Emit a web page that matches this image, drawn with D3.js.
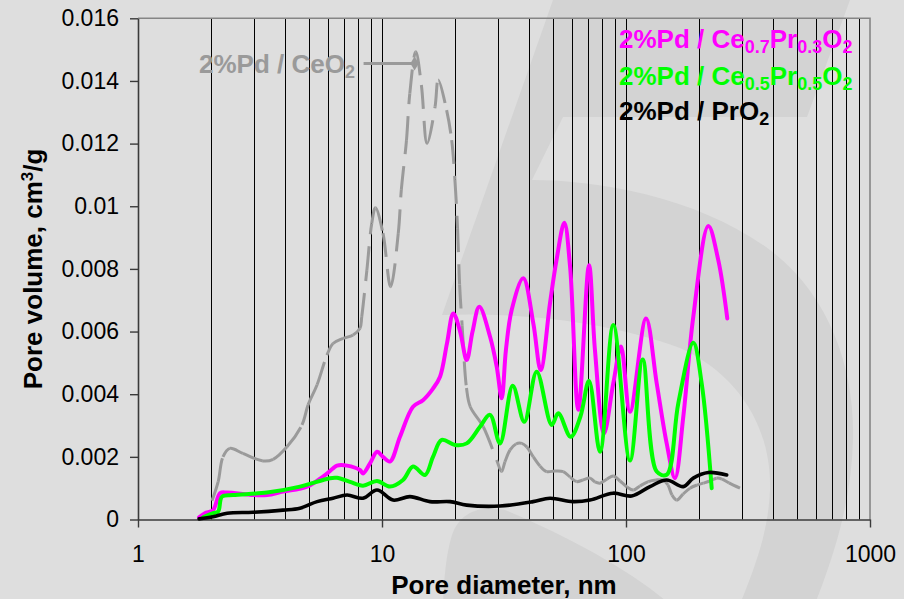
<!DOCTYPE html>
<html>
<head>
<meta charset="utf-8">
<script src="https://cdn.jsdelivr.net/npm/d3@7"></script>
<style>
  html, body { margin: 0; padding: 0; background: #dedede; }
  svg { display: block; }
  text { font-family: "Liberation Sans", Arial, sans-serif; }
</style>
</head>
<body>
<svg id="chart" width="904" height="599"></svg>
<script>
// Pore size distributions (pore diameter in nm, pore volume in cm3/g)
const seriesCeO2 = [
  [2.01,0.0006],[2.13,0.0012],[2.23,0.002],[2.38,0.00227],[2.69,0.00211],[3.25,0.00187],
  [3.58,0.00192],[4.08,0.00232],[4.70,0.00302],[4.98,0.00366],[5.42,0.0043],[5.95,0.00525],
  [6.30,0.00562],[6.92,0.00578],[7.61,0.00589],[8.12,0.0061],[8.26,0.00647],[8.67,0.00796],
  [9.08,0.00946],[9.4,0.00995],[10.09,0.00914],[10.85,0.00743],[11.66,0.00914],[12.0,0.01052],
  [12.6,0.01211],[13.0,0.0136],[13.75,0.01493],[14.5,0.01387],[15.3,0.01201],[16.5,0.01318],
  [17.0,0.01403],[18.4,0.01307],[19.3,0.01211],[19.9,0.01084],[20.4,0.0093],[20.8,0.0075],
  [21.3,0.0062],[22.2,0.0042],[23.0,0.0036],[26.0,0.00296],[29.5,0.0019],[30.9,0.00153],
  [31.9,0.00184],[33.5,0.00222],[35.4,0.00241],[37.4,0.00243],[39.3,0.00231],[41.7,0.002],
  [44.4,0.00171],[47.3,0.00153],[51.2,0.00155],[55.3,0.00153],[58.9,0.00136],[62.8,0.00121],
  [66.6,0.00126],[71.2,0.00132],[74.6,0.0012],[78.2,0.00116],[83.6,0.00129],[88.7,0.00139],
  [94.5,0.00123],[100.9,0.00104],[107.1,0.00094],[114.1,0.00107],[123.4,0.00121],[132.7,0.00126],
  [142.2,0.00126],[148.6,0.0011],[154.4,0.00078],[161.4,0.00062],[171.3,0.00081],[182.9,0.001],
  [195.5,0.0011],[207.4,0.00116],[220.8,0.00123],[235.3,0.00132],[247.3,0.00129],[264.3,0.00117],
  [293.2,0.001]
];

const seriesCe07 = [
  [1.78,0.00007],[1.88,0.0002],[2.03,0.0003],[2.17,0.00084],[2.32,0.00086],[2.96,0.00078],
  [3.38,0.00078],[3.93,0.00089],[4.93,0.00105],[5.73,0.00137],[6.30,0.00163],[6.54,0.00172],
  [7.19,0.00172],[8.12,0.00158],[8.36,0.00147],[8.93,0.00179],[9.54,0.00216],[10.09,0.002],
  [10.78,0.00185],[11.85,0.00264],[13.4,0.0036],[14.72,0.00381],[16.18,0.00418],[17.29,0.00456],
  [18.47,0.00563],[19.6,0.00658],[20.9,0.006],[22.24,0.00509],[23.5,0.006],[25.05,0.00679],
  [27.71,0.00584],[29.52,0.00488],[30.94,0.00387],[32.2,0.00541],[34.0,0.00669],[37.93,0.0077],
  [41.7,0.00626],[44.71,0.00477],[48.8,0.0069],[51.9,0.00828],[55.86,0.00947],[59.0,0.00807],
  [63.76,0.0035],[70.53,0.00812],[74.6,0.00541],[81.25,0.00275],[88.7,0.00435],[95.39,0.00552],
  [103.8,0.00344],[120.8,0.00642],[133.6,0.00435],[146.8,0.00243],[158.8,0.00132],[171.7,0.00328],
  [188.7,0.00647],[217.5,0.00937],[238.9,0.00828],[260.1,0.00642]
];

const seriesCe05 = [
  [1.85,0.00007],[2.03,0.0002],[2.13,0.00025],[2.21,0.00073],[2.45,0.00078],[3.38,0.00086],
  [4.61,0.00105],[6.12,0.00132],[6.54,0.00133],[7.39,0.0012],[8.36,0.00108],[9.54,0.00123],
  [10.78,0.00105],[12.19,0.00126],[13.4,0.00169],[15.0,0.00142],[16.18,0.002],[17.57,0.00254],
  [19.92,0.00238],[22.24,0.00243],[25.21,0.00296],[27.71,0.00334],[30.45,0.00243],[34.33,0.00427],
  [38.3,0.00312],[43.05,0.00472],[49.61,0.00302],[52.79,0.00339],[59.34,0.00264],[65.0,0.00328],
  [70.53,0.00443],[78.24,0.00216],[88.71,0.00621],[103.8,0.00188],[117.1,0.00511],[133.6,0.00153],
  [146.8,0.00143],[163.8,0.00371],[188.7,0.00564],[204.3,0.00434],[224.5,0.001]
];

const seriesPrO2 = [
  [1.78,0.00002],[2.03,0.00009],[2.32,0.0002],[2.96,0.00023],[3.93,0.0003],[4.61,0.00036],
  [5.42,0.00057],[6.30,0.00068],[7.19,0.00078],[8.36,0.00068],[9.54,0.00094],[11.1,0.00062],
  [13.02,0.00073],[15.73,0.00057],[19.0,0.00057],[22.24,0.00046],[30.45,0.00043],[41.6,0.00057],
  [48.8,0.00068],[60.6,0.00057],[71.2,0.00062],[88.5,0.00084],[105.5,0.00075],[125.4,0.00105],
  [146.8,0.00126],[171.7,0.00105],[188.7,0.00132],[217.5,0.0015],[258.6,0.00142]
];

const xTickValues = [1, 10, 100, 1000];
const xTickLabels = ["1", "10", "100", "1000"];
const yTickValues = [0, 0.002, 0.004, 0.006, 0.008, 0.01, 0.012, 0.014, 0.016];
const yTickLabels = ["0", "0.002", "0.004", "0.006", "0.008", "0.01", "0.012", "0.014", "0.016"];

// legend text pieces: [text, "n" normal | "s" subscript]
const legendCe07 = [["2%Pd / Ce","n"],["0.7","s"],["Pr","n"],["0.3","s"],["O","n"],["2","s"]];
const legendCe05 = [["2%Pd / Ce","n"],["0.5","s"],["Pr","n"],["0.5","s"],["O","n"],["2","s"]];
const legendPrO2 = [["2%Pd / PrO","n"],["2","s"]];
const labelCeO2  = [["2%Pd / CeO","n"],["2","s"]];
const ceO2Pointer = [13.6, 0.01456];   // where the CeO2 label arrow ends

const svg = d3.select("#chart");
const W = 904, H = 599;

// page background and the large faded "5" decoration behind the chart
svg.append("rect").attr("width", W).attr("height", H).attr("fill", "#dedede");
svg.append("path")
  .attr("d", "M553,0 L850,0 L807,117 L563,117 L532,180 C600,180 700,198 770,250 " +
             "C830,295 855,370 853,440 C851,510 830,570 800,640 L440,640 L442,315 Z")
  .attr("fill", "#d3d3d3");
svg.append("path")
  .attr("d", "M442,315 C520,312 610,322 680,348 C740,375 772,430 770,490 " +
             "C768,540 750,580 725,640 L700,640 C680,600 600,550 505,510 " +
             "C480,505 460,512 452,535 C446,555 443,580 442,640 L430,640 L430,315 Z")
  .attr("fill", "#dedede");

const x = d3.scaleLog().domain([1, 1000]).range([138, 870]);
const y = d3.scaleLinear().domain([0, 0.016]).range([519.5, 18.3]);

// vertical grid at every log step
const gridVals = x.ticks().filter(v => v > 1 && v < 1000);
svg.append("g").selectAll("line").data(gridVals).join("line")
  .attr("x1", d => Math.round(x(d)) + 0.5).attr("x2", d => Math.round(x(d)) + 0.5)
  .attr("y1", y(0)).attr("y2", y(0.016))
  .attr("stroke", "#000").attr("stroke-width", 1);

// top and right frame
svg.append("path")
  .attr("d", `M${x(1)},${y(0.016)}H${x(1000)}V${y(0)}`)
  .attr("fill", "none").attr("stroke", "#858585").attr("stroke-width", 1.6);

// axes
const xAxis = d3.axisBottom(x).tickValues(xTickValues)
  .tickFormat((d, i) => xTickLabels[i]).tickSizeInner(8).tickSizeOuter(0).tickPadding(18);
const yAxis = d3.axisLeft(y).tickValues(yTickValues)
  .tickFormat((d, i) => yTickLabels[i]).tickSizeInner(8).tickSizeOuter(0).tickPadding(11);

const gx = svg.append("g").attr("transform", `translate(0,${y(0)})`).call(xAxis);
const gy = svg.append("g").attr("transform", `translate(${x(1)},0)`).call(yAxis);
[gx, gy].forEach(g => {
  g.select(".domain").attr("stroke", "#3a3a3a").attr("stroke-width", 1.6);
  g.selectAll(".tick line").attr("stroke", "#3a3a3a").attr("stroke-width", 1.4);
  g.selectAll(".tick text").attr("fill", "#000").attr("font-size", 23)
    .attr("font-family", "'Liberation Sans', Arial, sans-serif");
});

// axis titles
svg.append("text").attr("x", (x(1) + x(1000)) / 2).attr("y", 594)
  .attr("text-anchor", "middle").attr("font-size", 26).attr("font-weight", "bold")
  .text("Pore diameter, nm");
const yt = svg.append("text")
  .attr("transform", `translate(42,${(y(0) + y(0.016)) / 2}) rotate(-90)`)
  .attr("text-anchor", "middle").attr("font-size", 26).attr("font-weight", "bold");
yt.append("tspan").text("Pore volume, cm");
yt.append("tspan").attr("font-size", 17).attr("dy", -9).text("3");
yt.append("tspan").attr("dy", 9).text("/g");

// smooth line generator
const lineGen = d3.line().x(d => x(d[0])).y(d => y(d[1])).curve(d3.curveCatmullRom.alpha(0.5));

// CeO2: dash pattern restarts on every curve segment
function segmentPaths(data) {
  const ctx = {
    segs: [], cx: 0, cy: 0,
    moveTo(a, b) { this.cx = a; this.cy = b; },
    lineTo(a, b) { this.segs.push(`M${this.cx},${this.cy}L${a},${b}`); this.cx = a; this.cy = b; },
    bezierCurveTo(a, b, c, d, e, f) {
      this.segs.push(`M${this.cx},${this.cy}C${a},${b},${c},${d},${e},${f}`); this.cx = e; this.cy = f;
    },
    closePath() {}
  };
  d3.line().x(d => x(d[0])).y(d => y(d[1])).curve(d3.curveCatmullRom.alpha(0.5)).context(ctx)(data);
  return ctx.segs;
}
svg.append("g").selectAll("path").data(segmentPaths(seriesCeO2)).join("path")
  .attr("d", d => d).attr("fill", "none").attr("stroke", "#9a9a9a")
  .attr("stroke-width", 3).attr("stroke-dasharray", "24,12");

const solidSeries = [
  { data: seriesCe07, color: "#ff00ff", width: 4 },
  { data: seriesCe05, color: "#00ff00", width: 4 },
  { data: seriesPrO2, color: "#000000", width: 3.6 }
];
solidSeries.forEach(s => {
  svg.append("path").attr("d", lineGen(s.data)).attr("fill", "none")
    .attr("stroke", s.color).attr("stroke-width", s.width)
    .attr("stroke-linejoin", "round").attr("stroke-linecap", "round");
});

// rich text helper with subscripts
function richText(parent, pieces, px, py, color) {
  const t = parent.append("text").attr("x", px).attr("y", py)
    .attr("font-size", 26).attr("font-weight", "bold").attr("fill", color);
  let shifted = false;
  pieces.forEach(([txt, kind]) => {
    const sp = t.append("tspan").text(txt);
    if (kind === "s" && !shifted) { sp.attr("font-size", 18).attr("dy", 5); shifted = true; }
    else if (kind === "s") { sp.attr("font-size", 18); }
    else if (shifted) { sp.attr("dy", -5); shifted = false; }
  });
  return t;
}

richText(svg, legendCe07, 619, 48, "#ff00ff");
richText(svg, legendCe05, 619, 85, "#00ff00");
richText(svg, legendPrO2, 619, 120, "#000000");

// CeO2 label with pointer to its peak
const px = x(ceO2Pointer[0]), py = y(ceO2Pointer[1]);
svg.append("line").attr("x1", px - 51).attr("x2", px).attr("y1", py).attr("y2", py)
  .attr("stroke", "#9a9a9a").attr("stroke-width", 3);
svg.append("path").attr("d", d3.symbol(d3.symbolDiamond, 60)())
  .attr("transform", `translate(${px},${py})`).attr("fill", "#9a9a9a");
richText(svg, labelCeO2, 199, 73, "#9a9a9a");
</script>
</body>
</html>
